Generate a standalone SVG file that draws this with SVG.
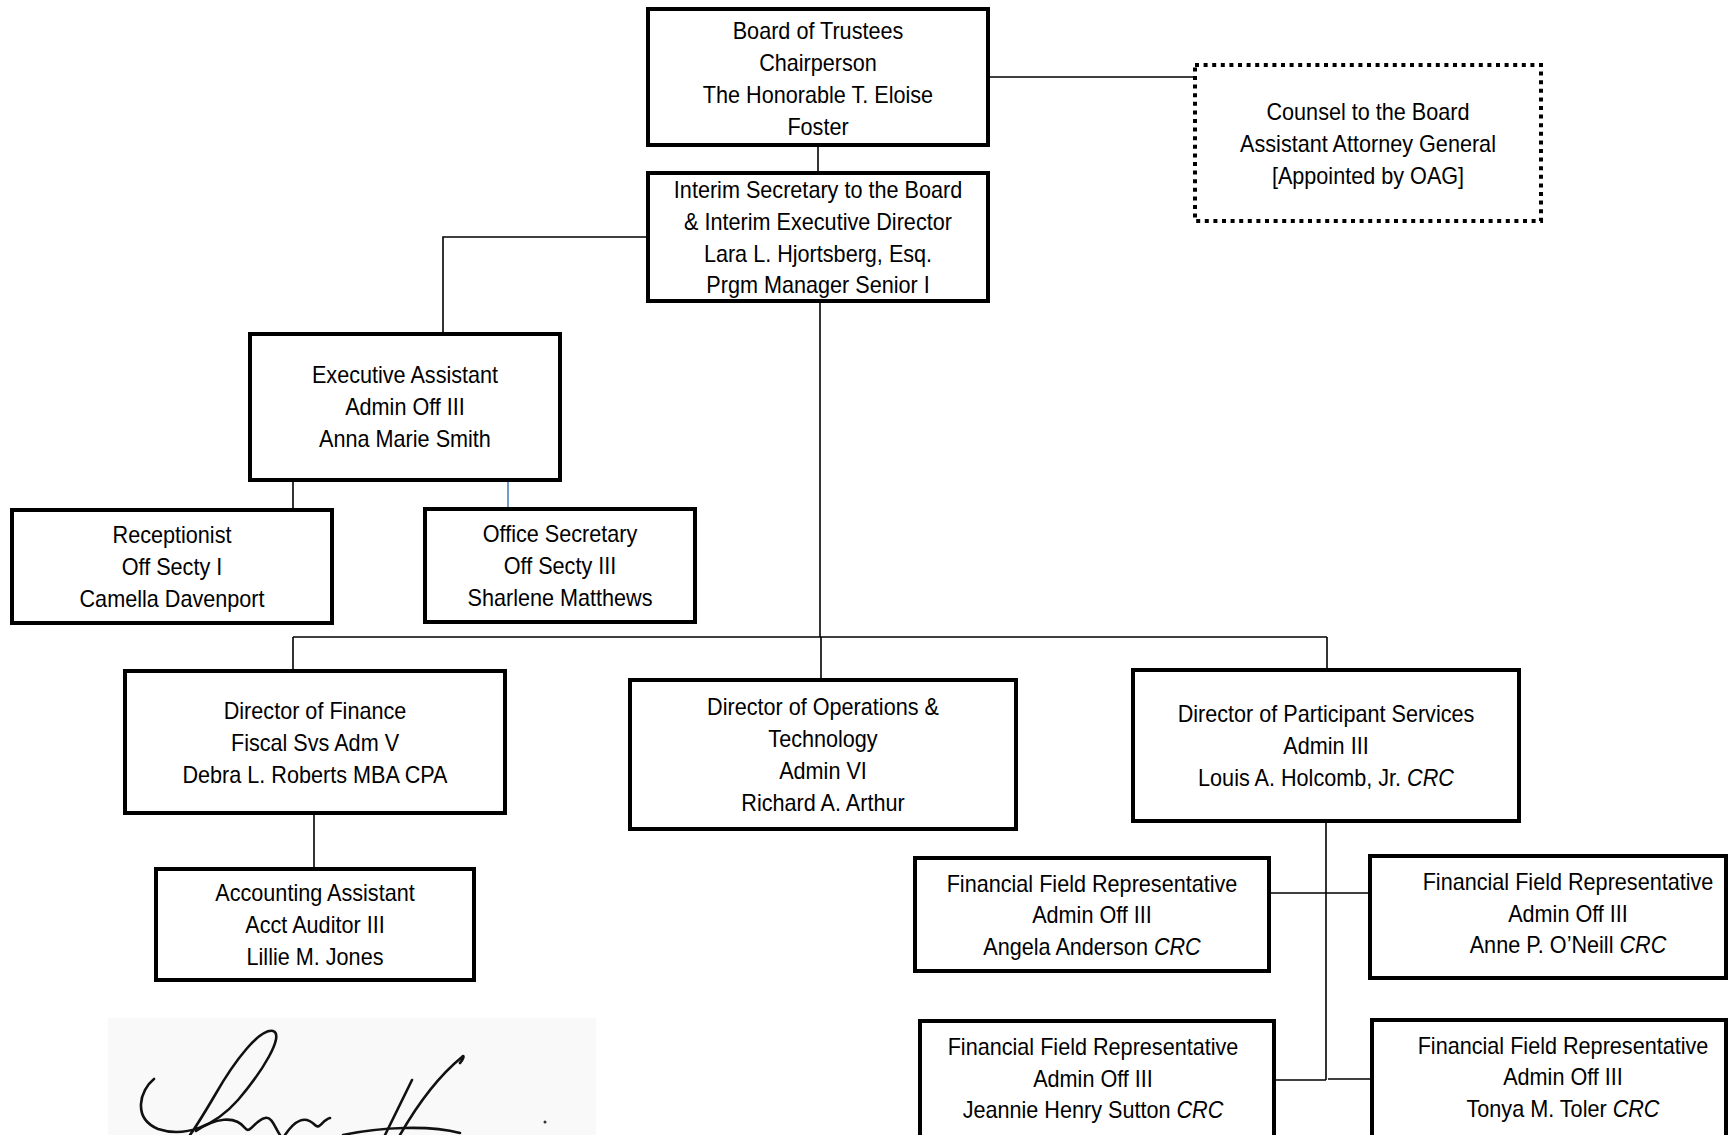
<svg xmlns="http://www.w3.org/2000/svg" width="1729" height="1135" viewBox="0 0 1729 1135">
<style>
  .box { fill: #ffffff; stroke: #000000; stroke-width: 4; }
  .dotbox { fill: #ffffff; stroke: #000000; stroke-width: 4; stroke-dasharray: 4 4.6; }
  .lbl { font-family: "Liberation Sans", Arial, sans-serif; font-size: 23px; fill: #000000; text-anchor: middle; }
  .it { font-style: italic; }
  .conn { stroke: #000000; stroke-width: 1.6; fill: none; }
  .blue { stroke: #4f81bd; stroke-width: 1.6; fill: none; }
  .sig { stroke: #111111; stroke-width: 2.6; fill: none; stroke-linecap: round; stroke-linejoin: round; }
</style>
<rect x="0" y="0" width="1729" height="1135" fill="#ffffff"/>

<g id="connectors">
  <path class="conn" d="M818,147 V171"/>
  <path class="conn" d="M990,77 H1195"/>
  <path class="conn" d="M646,237 H443 V332"/>
  <path class="conn" d="M820,303 V637"/>
  <path class="conn" d="M293,637 H1327"/>
  <path class="conn" d="M293,637 V669"/>
  <path class="conn" d="M821,637 V678"/>
  <path class="conn" d="M1327,637 V668"/>
  <path class="conn" d="M293,482 V508"/>
  <path class="blue" d="M508,482 V507"/>
  <path class="conn" d="M314,815 V867"/>
  <path class="conn" d="M1326,823 V1080"/>
  <path class="conn" d="M1271,893 H1368"/>
  <path class="conn" d="M1276,1080 H1326"/>
  <path class="conn" d="M1328,1079 H1370"/>
</g>

<g id="board">
  <rect class="box" x="648" y="9" width="340" height="136"/>
  <g transform="translate(818 0) scale(0.94 1)">
    <text class="lbl" x="0" y="39">Board of Trustees</text>
    <text class="lbl" x="0" y="71">Chairperson</text>
    <text class="lbl" x="0" y="103">The Honorable T. Eloise</text>
    <text class="lbl" x="0" y="135">Foster</text>
  </g>
</g>

<g id="counsel">
  <rect class="dotbox" x="1195" y="65" width="346" height="156"/>
  <g transform="translate(1368 0) scale(0.94 1)">
    <text class="lbl" x="0" y="120">Counsel to the Board</text>
    <text class="lbl" x="0" y="152">Assistant Attorney General</text>
    <text class="lbl" x="0" y="184">[Appointed by OAG]</text>
  </g>
</g>

<g id="interim">
  <rect class="box" x="648" y="173" width="340" height="128"/>
  <g transform="translate(818 0) scale(0.94 1)">
    <text class="lbl" x="0" y="198">Interim Secretary to the Board</text>
    <text class="lbl" x="0" y="230">&amp; Interim Executive Director</text>
    <text class="lbl" x="0" y="262">Lara L. Hjortsberg, Esq.</text>
    <text class="lbl" x="0" y="293">Prgm Manager Senior I</text>
  </g>
</g>

<g id="exec-assistant">
  <rect class="box" x="250" y="334" width="310" height="146"/>
  <g transform="translate(405 0) scale(0.94 1)">
    <text class="lbl" x="0" y="383">Executive Assistant</text>
    <text class="lbl" x="0" y="415">Admin Off III</text>
    <text class="lbl" x="0" y="447">Anna Marie Smith</text>
  </g>
</g>

<g id="receptionist">
  <rect class="box" x="12" y="510" width="320" height="113"/>
  <g transform="translate(172 0) scale(0.94 1)">
    <text class="lbl" x="0" y="543">Receptionist</text>
    <text class="lbl" x="0" y="575">Off Secty I</text>
    <text class="lbl" x="0" y="607">Camella Davenport</text>
  </g>
</g>

<g id="office-secretary">
  <rect class="box" x="425" y="509" width="270" height="113"/>
  <g transform="translate(560 0) scale(0.94 1)">
    <text class="lbl" x="0" y="542">Office Secretary</text>
    <text class="lbl" x="0" y="574">Off Secty III</text>
    <text class="lbl" x="0" y="606">Sharlene Matthews</text>
  </g>
</g>

<g id="finance">
  <rect class="box" x="125" y="671" width="380" height="142"/>
  <g transform="translate(315 0) scale(0.94 1)">
    <text class="lbl" x="0" y="719">Director of Finance</text>
    <text class="lbl" x="0" y="751">Fiscal Svs Adm V</text>
    <text class="lbl" x="0" y="783">Debra L. Roberts MBA CPA</text>
  </g>
</g>

<g id="accounting">
  <rect class="box" x="156" y="869" width="318" height="111"/>
  <g transform="translate(315 0) scale(0.94 1)">
    <text class="lbl" x="0" y="901">Accounting Assistant</text>
    <text class="lbl" x="0" y="933">Acct Auditor III</text>
    <text class="lbl" x="0" y="965">Lillie M. Jones</text>
  </g>
</g>

<g id="operations">
  <rect class="box" x="630" y="680" width="386" height="149"/>
  <g transform="translate(823 0) scale(0.94 1)">
    <text class="lbl" x="0" y="715">Director of Operations &amp;</text>
    <text class="lbl" x="0" y="747">Technology</text>
    <text class="lbl" x="0" y="779">Admin VI</text>
    <text class="lbl" x="0" y="811">Richard A. Arthur</text>
  </g>
</g>

<g id="participant-services">
  <rect class="box" x="1133" y="670" width="386" height="151"/>
  <g transform="translate(1326 0) scale(0.94 1)">
    <text class="lbl" x="0" y="722">Director of Participant Services</text>
    <text class="lbl" x="0" y="754">Admin III</text>
    <text class="lbl" x="0" y="786">Louis A. Holcomb, Jr. <tspan class="it">CRC</tspan></text>
  </g>
</g>

<g id="ffr-anderson">
  <rect class="box" x="915" y="858" width="354" height="113"/>
  <g transform="translate(1092 0) scale(0.94 1)">
    <text class="lbl" x="0" y="892">Financial Field Representative</text>
    <text class="lbl" x="0" y="923">Admin Off III</text>
    <text class="lbl" x="0" y="955">Angela Anderson <tspan class="it">CRC</tspan></text>
  </g>
</g>

<g id="ffr-oneill">
  <rect class="box" x="1370" y="856" width="356" height="122"/>
  <g transform="translate(1568 0) scale(0.94 1)">
    <text class="lbl" x="0" y="890">Financial Field Representative</text>
    <text class="lbl" x="0" y="922">Admin Off III</text>
    <text class="lbl" x="0" y="953">Anne P. O’Neill <tspan class="it">CRC</tspan></text>
  </g>
</g>

<g id="ffr-sutton">
  <rect class="box" x="920" y="1021" width="354" height="130"/>
  <g transform="translate(1093 0) scale(0.94 1)">
    <text class="lbl" x="0" y="1055">Financial Field Representative</text>
    <text class="lbl" x="0" y="1087">Admin Off III</text>
    <text class="lbl" x="0" y="1118">Jeannie Henry Sutton <tspan class="it">CRC</tspan></text>
  </g>
</g>

<g id="ffr-toler">
  <rect class="box" x="1372" y="1020" width="354" height="130"/>
  <g transform="translate(1563 0) scale(0.94 1)">
    <text class="lbl" x="0" y="1054">Financial Field Representative</text>
    <text class="lbl" x="0" y="1085">Admin Off III</text>
    <text class="lbl" x="0" y="1117">Tonya M. Toler <tspan class="it">CRC</tspan></text>
  </g>
</g>

<g id="signature">
  <rect x="108" y="1018" width="488" height="117" fill="#f9f9f9"/>
  <path class="sig" d="M154,1079 C140,1090 132,1118 158,1129 C185,1138 215,1126 238,1100 C262,1072 285,1035 273,1031 C260,1028 235,1060 215,1095 C205,1112 195,1128 190,1135"/>
  <path class="sig" d="M196,1131 C215,1118 235,1115 245,1128 C250,1135 255,1120 265,1118 C272,1116 275,1128 280,1135 M285,1135 C295,1120 305,1115 315,1125 C320,1130 322,1120 330,1118"/>
  <path class="sig" d="M385,1135 L412,1080"/>
  <path class="sig" d="M400,1135 C420,1100 440,1075 462,1057 C465,1054 463,1060 460,1063"/>
  <path class="sig" d="M343,1135 C380,1127 430,1125 460,1133"/>
  <circle cx="545" cy="1122" r="1.5" fill="#333333"/>
</g>
</svg>
